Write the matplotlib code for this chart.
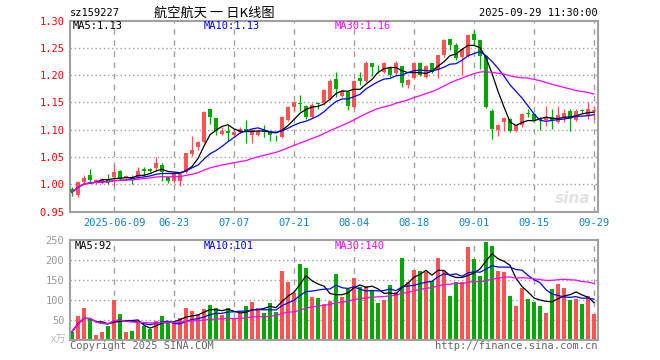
import matplotlib
matplotlib.use("Agg")
import matplotlib.pyplot as plt
import numpy as np
import pandas as pd

plt.rcParams["font.family"] = ["DejaVu Sans Mono", "Noto Sans CJK SC"]

# 日K数据
opens = [0.991, 0.980, 1.004, 1.016, 1.004, 1.003, 1.008, 1.014, 1.025, 1.011,
         1.014, 1.014, 1.028, 1.027, 1.030, 1.036, 1.014, 1.005, 1.006, 1.022,
         1.055, 1.068, 1.077, 1.137, 1.121, 1.092, 1.098, 1.090, 1.095, 1.101,
         1.091, 1.090, 1.098, 1.096, 1.089, 1.086, 1.117, 1.141, 1.148, 1.143,
         1.123, 1.148, 1.148, 1.157, 1.192, 1.161, 1.169, 1.141, 1.194, 1.189,
         1.222, 1.210, 1.206, 1.214, 1.203, 1.216, 1.181, 1.194, 1.223, 1.197,
         1.222, 1.209, 1.236, 1.266, 1.255, 1.233, 1.235, 1.276, 1.264, 1.235,
         1.135, 1.100, 1.114, 1.120, 1.098, 1.108, 1.130, 1.129, 1.119, 1.117,
         1.124, 1.114, 1.122, 1.135, 1.118, 1.135, 1.126, 1.134]
highs = [0.994, 1.006, 1.017, 1.028, 1.009, 1.012, 1.018, 1.035, 1.026, 1.017,
         1.017, 1.031, 1.031, 1.030, 1.049, 1.038, 1.015, 1.019, 1.022, 1.058,
         1.089, 1.080, 1.134, 1.139, 1.122, 1.104, 1.108, 1.102, 1.105, 1.117,
         1.101, 1.098, 1.108, 1.098, 1.091, 1.125, 1.144, 1.152, 1.163, 1.145,
         1.148, 1.150, 1.175, 1.192, 1.206, 1.174, 1.170, 1.191, 1.206, 1.225,
         1.223, 1.219, 1.224, 1.216, 1.225, 1.217, 1.193, 1.224, 1.224, 1.218,
         1.223, 1.237, 1.266, 1.267, 1.259, 1.250, 1.275, 1.283, 1.265, 1.236,
         1.137, 1.111, 1.123, 1.121, 1.110, 1.131, 1.138, 1.131, 1.123, 1.144,
         1.138, 1.144, 1.138, 1.137, 1.138, 1.138, 1.150, 1.144]
lows = [0.979, 0.977, 1.001, 1.003, 1.000, 1.000, 1.000, 0.997, 1.008, 1.008,
        1.000, 1.009, 1.015, 1.022, 1.025, 1.005, 1.003, 1.002, 0.997, 1.020,
        1.052, 1.063, 1.075, 1.111, 1.091, 1.091, 1.080, 1.086, 1.094, 1.075,
        1.076, 1.089, 1.086, 1.080, 1.080, 1.085, 1.115, 1.135, 1.135, 1.120,
        1.121, 1.138, 1.146, 1.155, 1.160, 1.160, 1.136, 1.138, 1.182, 1.187,
        1.199, 1.203, 1.204, 1.197, 1.201, 1.179, 1.176, 1.193, 1.198, 1.194,
        1.204, 1.195, 1.234, 1.246, 1.228, 1.201, 1.233, 1.255, 1.212, 1.140,
        1.083, 1.088, 1.098, 1.096, 1.096, 1.105, 1.123, 1.115, 1.099, 1.106,
        1.101, 1.112, 1.114, 1.098, 1.115, 1.131, 1.120, 1.120]
closes = [0.985, 1.004, 1.012, 1.008, 1.008, 1.009, 1.004, 1.023, 1.010, 1.015,
          1.007, 1.025, 1.025, 1.025, 1.039, 1.023, 1.005, 1.019, 1.019, 1.057,
          1.063, 1.077, 1.133, 1.123, 1.098, 1.098, 1.093, 1.095, 1.101, 1.095,
          1.100, 1.097, 1.095, 1.090, 1.088, 1.124, 1.141, 1.150, 1.147, 1.123,
          1.146, 1.147, 1.172, 1.190, 1.175, 1.171, 1.144, 1.190, 1.189, 1.223,
          1.214, 1.209, 1.222, 1.201, 1.223, 1.185, 1.191, 1.223, 1.200, 1.216,
          1.206, 1.236, 1.264, 1.256, 1.231, 1.248, 1.273, 1.264, 1.235, 1.141,
          1.102, 1.109, 1.121, 1.098, 1.108, 1.129, 1.128, 1.118, 1.117, 1.123,
          1.117, 1.126, 1.130, 1.120, 1.134, 1.134, 1.137, 1.136]
volumes = [21, 60, 81, 53, 12.5, 21, 35, 100, 65, 21,
           22.5, 42, 35, 28, 48, 60, 48, 44, 54, 81,
           73, 62, 77, 87, 79, 62, 79, 52, 67, 85,
           96, 79, 68, 92, 70, 172, 146, 117, 190, 180,
           108, 105, 90, 98, 165, 108, 127, 156, 132, 135,
           123, 93, 100, 137, 121, 206, 146, 175, 172, 171,
           147, 206, 173, 110, 146, 146, 233, 203, 160, 246,
           235, 172, 171, 110, 85, 131, 103, 96, 85, 68,
           127, 140, 131, 100, 103, 90, 110, 65]

tick_idx = [7, 17, 27, 37, 47, 57, 67, 77, 87]
tick_labels = ["2025-06-09", "06-23", "07-07", "07-21", "08-04",
               "08-18", "09-01", "09-15", "09-29"]
price_ma_text = ["MA5:1.13", "MA10:1.13", "MA30:1.16"]
vol_ma_text = ["MA5:92", "MA10:101", "MA30:140"]

RED = "#ff5353"
GREEN = "#00a800"
GRAY = "#a0a0a0"
ma_colors = ["black", "#0000ff", "#ff00ff"]

x = np.arange(len(closes))
o = np.array(opens)
c = np.array(closes)
up = c >= o
colors = np.where(up, RED, GREEN)

close_s = pd.Series(closes)
vol_s = pd.Series(volumes)
price_mas = [close_s.rolling(n, min_periods=1).mean() for n in (5, 10, 30)]
vol_mas = [vol_s.rolling(n, min_periods=1).mean() for n in (5, 10, 30)]

fig = plt.figure(figsize=(6.6, 3.6), dpi=100)
ax = fig.add_axes([70 / 660, 1 - 211.5 / 360, 528 / 660, 191 / 360])
ax2 = fig.add_axes([70 / 660, 1 - 340 / 360, 528 / 660, 100 / 360])

xlim = (-1 / 3, 88 - 1 / 3)

for a in (ax, ax2):
    a.set_xlim(*xlim)
    for s in a.spines.values():
        s.set_color(GRAY)
        s.set_linewidth(1.5)
    for t in tick_idx:
        a.axvline(t, color=GRAY, lw=1, dashes=(4, 4), zorder=0)
    a.tick_params(length=0)

# K线
ax.vlines(x, lows, highs, colors=colors, lw=0.9, zorder=2)
body_bottom = np.minimum(o, c)
body_h = np.maximum(np.abs(c - o), 0.0012)
ax.bar(x, body_h, bottom=body_bottom, width=0.82, color=colors, zorder=3)
for ma, col in zip(price_mas, ma_colors):
    ax.plot(x, ma, color=col, lw=0.9, zorder=4)

ax.set_ylim(0.95, 1.30)
yt = np.round(np.arange(0.95, 1.301, 0.05), 2)
ax.set_yticks(yt)
ax.set_yticklabels([f"{v:.2f}" for v in yt], color="#ff0000", fontsize=7.5)
for v in yt[1:-1]:
    ax.axhline(v, color=GRAY, lw=1, dashes=(1, 2), zorder=0)
ax.set_xticks(tick_idx)
ax.set_xticklabels(tick_labels, color="#0a7fd0", fontsize=7.5)
ax.tick_params(axis="x", pad=5)
ax.tick_params(axis="y", pad=4)

for txt, col, xp in zip(price_ma_text, ma_colors, [73, 204, 335]):
    fig.text(xp / 660, 1 - 26 / 360, txt, color=col, fontsize=7.5, va="center")

ax.text(0.985, 0.03, "sina", transform=ax.transAxes, ha="right", va="bottom",
        fontsize=11, fontstyle="italic", fontweight="bold", color="#e2e2e2",
        family="DejaVu Sans", zorder=1)

# 成交量
ax2.bar(x, volumes, width=0.82, color=colors, zorder=2)
for ma, col in zip(vol_mas, ma_colors):
    ax2.plot(x, ma, color=col, lw=0.9, zorder=3)
ax2.set_ylim(0, 250)
ax2.set_yticks([50, 100, 150, 200, 250])
ax2.set_yticklabels(["50", "100", "150", "200", "250"], color="#999999", fontsize=7.5)
ax2.tick_params(axis="y", pad=4)
ax2.set_xticks([])
for v in [50, 100, 150, 200]:
    ax2.axhline(v, color=GRAY, lw=1, dashes=(1, 2), zorder=0)

for txt, col, xp in zip(vol_ma_text, ma_colors, [75, 204, 335]):
    fig.text(xp / 660, 1 - 246 / 360, txt, color=col, fontsize=7.5, va="center")

fig.text(66 / 660, 1 - 340 / 360, "x万", color="#bbbbbb", fontsize=7.5,
         ha="right", va="center", family=["Noto Sans CJK SC", "DejaVu Sans"])
fig.text(70 / 660, 1 - 346 / 360, "Copyright 2025 SINA.COM", color="#666666",
         fontsize=7.5, va="center")
fig.text(598 / 660, 1 - 346 / 360, "http://finance.sina.com.cn", color="#666666",
         fontsize=7.5, va="center", ha="right")

# 标题行
fig.text(70 / 660, 1 - 13 / 360, "sz159227", color="black", fontsize=7.5, va="center")
fig.text(214 / 660, 1 - 13 / 360, "航空航天 一 日K线图", color="black", fontsize=9.5,
         va="center", ha="center", family=["Noto Sans CJK SC", "DejaVu Sans"])
fig.text(598 / 660, 1 - 13 / 360, "2025-09-29 11:30:00", color="black", fontsize=7.5,
         va="center", ha="right")

fig.savefig("out.png", dpi=100)
plt.close(fig)
